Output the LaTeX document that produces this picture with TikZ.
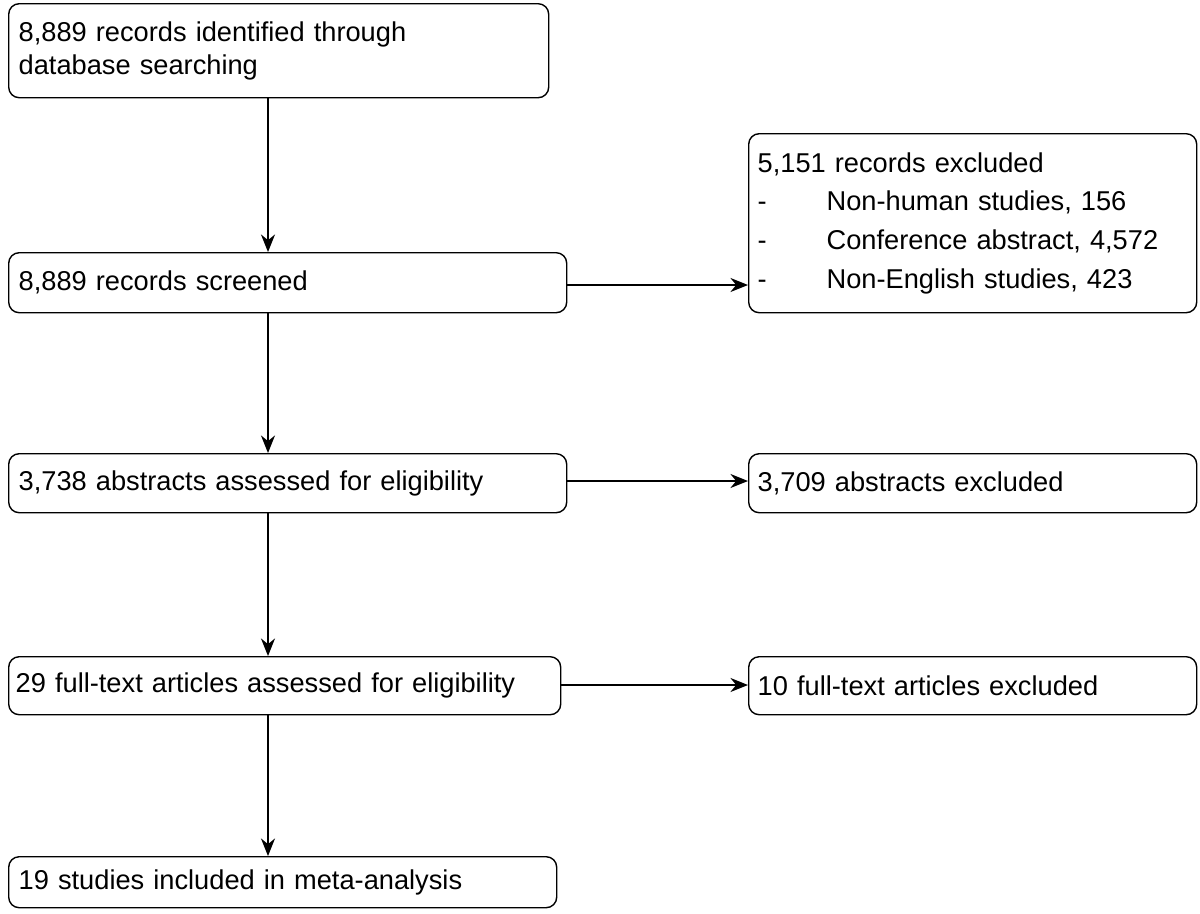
\documentclass[tikz,border=0pt]{standalone}
\usepackage{fontspec}
\setmainfont{Liberation Sans}
\usetikzlibrary{arrows.meta}
\begin{document}
\begin{tikzpicture}[x=0.02cm,y=-0.02cm,
box/.style={draw,thick,rounded corners=6pt,anchor=north west,align=left,inner sep=0pt,font=\fontsize{15.5}{19}\selectfont},
arr/.style={-{Stealth[length=10pt,width=8pt]},thick}]
\useasboundingbox (0,0) rectangle (1200,913);
\node[box,minimum width=540*0.02cm,minimum height=94*0.02cm,text width=520*0.02cm] (a) at (8,3) {8,889 records identified through\\database searching\\[0.8em]};
\node[box,minimum width=558*0.02cm,minimum height=60*0.02cm,text width=538*0.02cm] (b) at (8,252) {8,889 records screened\\[0.3em]};
\node[box,minimum width=558*0.02cm,minimum height=59*0.02cm,text width=538*0.02cm] (c) at (8,453) {3,738 abstracts assessed for eligibility};
\node[box,minimum width=552*0.02cm,minimum height=58*0.02cm,text width=538*0.02cm] (d) at (8,656) {29 full-text articles assessed for eligibility};
\node[box,minimum width=548*0.02cm,minimum height=51*0.02cm,text width=528*0.02cm] (e) at (8,856) {19 studies included in meta-analysis};
\node[box,minimum width=448*0.02cm,minimum height=179*0.02cm,text width=430*0.02cm] (x1) at (748,133) {5,151 records excluded\\[0.2em]
-\hspace{2.2em}Non-human studies, 156\\[0.2em]
-\hspace{2.2em}Conference abstract, 4,572\\[0.2em]
-\hspace{2.2em}Non-English studies, 423};
\node[box,minimum width=448*0.02cm,minimum height=59*0.02cm,text width=430*0.02cm] (x2) at (748,453) {3,709 abstracts excluded};
\node[box,minimum width=448*0.02cm,minimum height=58*0.02cm,text width=430*0.02cm] (x3) at (748,656) {10 full-text articles excluded};
\draw[arr] (a.south -| 268,0) -- (b.north -| 268,0);
\draw[arr] (b.south -| 268,0) -- (c.north -| 268,0);
\draw[arr] (c.south -| 268,0) -- (d.north -| 268,0);
\draw[arr] (d.south -| 268,0) -- (e.north -| 268,0);
\draw[arr] (b.east |- 0,285) -- (x1.west |- 0,285);
\draw[arr] (c.east |- 0,481) -- (x2.west |- 0,481);
\draw[arr] (d.east |- 0,685) -- (x3.west |- 0,685);
\end{tikzpicture}
\end{document}
